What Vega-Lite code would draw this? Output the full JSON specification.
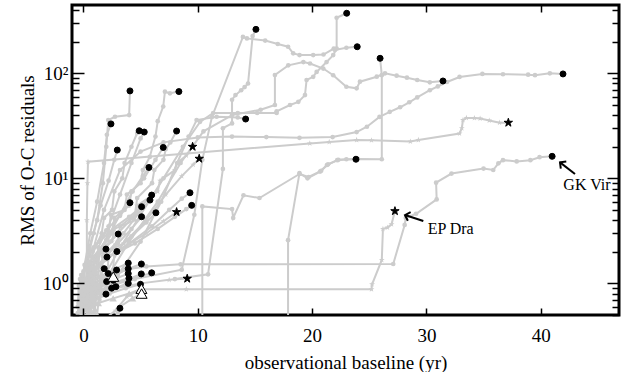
{
"$schema": "https://vega.github.io/schema/vega-lite/v6.json",
"width": 547, "height": 310,
"autosize": "none",
"padding": {"left": 72, "top": 5, "right": 2, "bottom": 57},
"background": "white",
"config": {"view": {"stroke": "black", "strokeWidth": 3}},
"datasets": {
"tracks": [
{"t":"t1","k":"a","o":0,"x":0.6,"y":0.62},{"t":"t1","k":"a","o":1,"x":1.2,"y":0.9},{"t":"t1","k":"a","o":2,"x":2.2,"y":1.15},{"t":"t1","k":"a","o":3,"x":3.5,"y":1.35},{"t":"t1","k":"a","o":4,"x":5.5,"y":1.45},{"t":"t1","k":"a","o":5,"x":8.5,"y":1.52},{"t":"t1","k":"a","o":6,"x":27.1,"y":1.53},{"t":"t1","k":"a","o":7,"x":28.1,"y":3.6},{"t":"t1","k":"a","o":8,"x":28.2,"y":4.2},{"t":"t1","k":"a","o":9,"x":29.1,"y":4.6},{"t":"t1","k":"a","o":10,"x":30.9,"y":6.3},{"t":"t1","k":"a","o":11,"x":30.85,"y":9.1},{"t":"t1","k":"a","o":12,"x":32.2,"y":11.1},{"t":"t1","k":"a","o":13,"x":35.0,"y":12.4},{"t":"t1","k":"a","o":14,"x":35.85,"y":12.0},{"t":"t1","k":"a","o":15,"x":36.3,"y":13.9},{"t":"t1","k":"a","o":16,"x":36.7,"y":14.9},{"t":"t1","k":"a","o":17,"x":37.9,"y":14.5},{"t":"t1","k":"a","o":18,"x":39.1,"y":14.9},{"t":"t1","k":"a","o":19,"x":39.9,"y":15.9},{"t":"t1","k":"a","o":20,"x":41.0,"y":16.2},
{"t":"t2","k":"b","o":0,"x":2.8,"y":0.55},{"t":"t2","k":"b","o":1,"x":3.8,"y":0.75},{"t":"t2","k":"b","o":2,"x":5.0,"y":0.88},{"t":"t2","k":"b","o":3,"x":9.0,"y":0.88},{"t":"t2","k":"b","o":4,"x":25.2,"y":0.88},{"t":"t2","k":"b","o":5,"x":25.25,"y":0.98},{"t":"t2","k":"b","o":6,"x":26.1,"y":1.67},{"t":"t2","k":"b","o":7,"x":26.2,"y":3.3},{"t":"t2","k":"b","o":8,"x":26.6,"y":3.4},{"t":"t2","k":"b","o":9,"x":26.95,"y":3.65},{"t":"t2","k":"b","o":10,"x":27.25,"y":4.88},
{"t":"t3","k":"a","o":0,"x":0.8,"y":2.0},{"t":"t3","k":"a","o":1,"x":1.8,"y":5},{"t":"t3","k":"a","o":2,"x":3.2,"y":12},{"t":"t3","k":"a","o":3,"x":5,"y":18},{"t":"t3","k":"a","o":4,"x":7,"y":22},{"t":"t3","k":"a","o":5,"x":10,"y":24.5},{"t":"t3","k":"a","o":6,"x":13,"y":25},{"t":"t3","k":"a","o":7,"x":16,"y":24.7},{"t":"t3","k":"a","o":8,"x":18.9,"y":24.3},{"t":"t3","k":"a","o":9,"x":21.8,"y":24.7},{"t":"t3","k":"a","o":10,"x":23.9,"y":27.6},{"t":"t3","k":"a","o":11,"x":24.8,"y":31},{"t":"t3","k":"a","o":12,"x":25.9,"y":38.4},{"t":"t3","k":"a","o":13,"x":26.8,"y":43},{"t":"t3","k":"a","o":14,"x":27.7,"y":47.5},{"t":"t3","k":"a","o":15,"x":28.5,"y":53},{"t":"t3","k":"a","o":16,"x":29.2,"y":59},{"t":"t3","k":"a","o":17,"x":30.3,"y":69},{"t":"t3","k":"a","o":18,"x":31.0,"y":75},{"t":"t3","k":"a","o":19,"x":31.8,"y":82.6},{"t":"t3","k":"a","o":20,"x":32.9,"y":92.3},{"t":"t3","k":"a","o":21,"x":34.9,"y":98.6},{"t":"t3","k":"a","o":22,"x":36.7,"y":98},{"t":"t3","k":"a","o":23,"x":38.9,"y":97},{"t":"t3","k":"a","o":24,"x":39.5,"y":96},{"t":"t3","k":"a","o":25,"x":40.8,"y":100},{"t":"t3","k":"a","o":26,"x":41.95,"y":98.6},
{"t":"t4","k":"b","o":0,"x":0.3,"y":0.5},{"t":"t4","k":"b","o":1,"x":0.3,"y":1.5},{"t":"t4","k":"b","o":2,"x":0.3,"y":4},{"t":"t4","k":"b","o":3,"x":0.35,"y":9},{"t":"t4","k":"b","o":4,"x":0.4,"y":14.4},{"t":"t4","k":"b","o":5,"x":19.8,"y":21.5},{"t":"t4","k":"b","o":6,"x":21.5,"y":22.2},{"t":"t4","k":"b","o":7,"x":23.9,"y":23.2},{"t":"t4","k":"b","o":8,"x":25.2,"y":23.0},{"t":"t4","k":"b","o":9,"x":28.6,"y":22.4},{"t":"t4","k":"b","o":10,"x":29.3,"y":23.2},{"t":"t4","k":"b","o":11,"x":32.9,"y":26.7},{"t":"t4","k":"b","o":12,"x":33.1,"y":30},{"t":"t4","k":"b","o":13,"x":33.2,"y":35.9},{"t":"t4","k":"b","o":14,"x":33.5,"y":37.6},{"t":"t4","k":"b","o":15,"x":34.2,"y":37.5},{"t":"t4","k":"b","o":16,"x":34.7,"y":37.1},{"t":"t4","k":"b","o":17,"x":35.5,"y":35.5},{"t":"t4","k":"b","o":18,"x":36.4,"y":33.9},{"t":"t4","k":"b","o":19,"x":37.17,"y":33.9},
{"t":"t5","k":"a","o":0,"x":17.9,"y":0.45},{"t":"t5","k":"a","o":1,"x":17.9,"y":2.58},{"t":"t5","k":"a","o":2,"x":18.9,"y":11.2},{"t":"t5","k":"a","o":3,"x":19.6,"y":10.0},{"t":"t5","k":"a","o":4,"x":20.7,"y":11.6},{"t":"t5","k":"a","o":5,"x":21.3,"y":13.4},{"t":"t5","k":"a","o":6,"x":22.2,"y":14.9},{"t":"t5","k":"a","o":7,"x":23.0,"y":15.2},{"t":"t5","k":"a","o":8,"x":23.84,"y":15.2},
{"t":"t6","k":"a","o":0,"x":10.4,"y":0.45},{"t":"t6","k":"a","o":1,"x":10.4,"y":5.4},{"t":"t6","k":"a","o":2,"x":13.0,"y":5.1},{"t":"t6","k":"a","o":3,"x":13.1,"y":4.2},{"t":"t6","k":"a","o":4,"x":14.0,"y":6.9},{"t":"t6","k":"a","o":5,"x":15.4,"y":6.5},{"t":"t6","k":"a","o":6,"x":18.9,"y":11.0},{"t":"t6","k":"a","o":7,"x":19.7,"y":10.3},{"t":"t6","k":"a","o":8,"x":20.8,"y":11.8},{"t":"t6","k":"a","o":9,"x":21.4,"y":13.6},{"t":"t6","k":"a","o":10,"x":22.3,"y":15.0},{"t":"t6","k":"a","o":11,"x":24.0,"y":15.3},{"t":"t6","k":"a","o":12,"x":26.1,"y":15.2},{"t":"t6","k":"a","o":13,"x":26.1,"y":96},{"t":"t6","k":"a","o":14,"x":25.95,"y":139},
{"t":"t7","k":"a","o":0,"x":8.0,"y":1.1},{"t":"t7","k":"a","o":1,"x":10.9,"y":1.22},{"t":"t7","k":"a","o":2,"x":12.2,"y":12.3},{"t":"t7","k":"a","o":3,"x":12.2,"y":30},{"t":"t7","k":"a","o":4,"x":13.0,"y":33.3},{"t":"t7","k":"a","o":5,"x":13.0,"y":56},{"t":"t7","k":"a","o":6,"x":13.3,"y":62},{"t":"t7","k":"a","o":7,"x":13.8,"y":69},{"t":"t7","k":"a","o":8,"x":14.1,"y":74},{"t":"t7","k":"a","o":9,"x":14.4,"y":80},{"t":"t7","k":"a","o":10,"x":14.8,"y":226},{"t":"t7","k":"a","o":11,"x":15.09,"y":262},
{"t":"t8","k":"a","o":0,"x":4.5,"y":1.1},{"t":"t8","k":"a","o":1,"x":8.6,"y":1.35},{"t":"t8","k":"a","o":2,"x":9.7,"y":4.5},{"t":"t8","k":"a","o":3,"x":10.4,"y":15},{"t":"t8","k":"a","o":4,"x":11.24,"y":38.4},{"t":"t8","k":"a","o":5,"x":13.95,"y":222},{"t":"t8","k":"a","o":6,"x":14.3,"y":215},{"t":"t8","k":"a","o":7,"x":15.9,"y":205},{"t":"t8","k":"a","o":8,"x":17.0,"y":190},{"t":"t8","k":"a","o":9,"x":17.9,"y":179},{"t":"t8","k":"a","o":10,"x":18.35,"y":155},{"t":"t8","k":"a","o":11,"x":18.9,"y":149},{"t":"t8","k":"a","o":12,"x":20.1,"y":149},{"t":"t8","k":"a","o":13,"x":21.0,"y":151},{"t":"t8","k":"a","o":14,"x":21.9,"y":172},{"t":"t8","k":"a","o":15,"x":22.0,"y":167},{"t":"t8","k":"a","o":16,"x":23.0,"y":175},{"t":"t8","k":"a","o":17,"x":23.95,"y":179},
{"t":"t9","k":"a","o":0,"x":1.5,"y":1.0},{"t":"t9","k":"a","o":1,"x":3,"y":2},{"t":"t9","k":"a","o":2,"x":5,"y":4.5},{"t":"t9","k":"a","o":3,"x":7,"y":10},{"t":"t9","k":"a","o":4,"x":8.7,"y":20},{"t":"t9","k":"a","o":5,"x":10.2,"y":34.5},{"t":"t9","k":"a","o":6,"x":11.35,"y":41.9},{"t":"t9","k":"a","o":7,"x":13.5,"y":41.9},{"t":"t9","k":"a","o":8,"x":15.2,"y":41.9},{"t":"t9","k":"a","o":9,"x":16.9,"y":41.9},{"t":"t9","k":"a","o":10,"x":16.9,"y":43.5},{"t":"t9","k":"a","o":11,"x":18.07,"y":49.9},{"t":"t9","k":"a","o":12,"x":18.8,"y":53.5},{"t":"t9","k":"a","o":13,"x":19.38,"y":62},{"t":"t9","k":"a","o":14,"x":19.52,"y":86.4},{"t":"t9","k":"a","o":15,"x":20.1,"y":92.6},{"t":"t9","k":"a","o":16,"x":20.4,"y":103},{"t":"t9","k":"a","o":17,"x":21.27,"y":128},{"t":"t9","k":"a","o":18,"x":21.85,"y":149},{"t":"t9","k":"a","o":19,"x":22.15,"y":172},{"t":"t9","k":"a","o":20,"x":22.15,"y":338},{"t":"t9","k":"a","o":21,"x":23.03,"y":373},
{"t":"t10","k":"a","o":0,"x":2.0,"y":1.1},{"t":"t10","k":"a","o":1,"x":4,"y":2.5},{"t":"t10","k":"a","o":2,"x":6.5,"y":6},{"t":"t10","k":"a","o":3,"x":8.5,"y":14},{"t":"t10","k":"a","o":4,"x":10.5,"y":28},{"t":"t10","k":"a","o":5,"x":13,"y":40},{"t":"t10","k":"a","o":6,"x":15.5,"y":45},{"t":"t10","k":"a","o":7,"x":16.75,"y":49.9},{"t":"t10","k":"a","o":8,"x":16.75,"y":96.4},{"t":"t10","k":"a","o":9,"x":17.92,"y":119},{"t":"t10","k":"a","o":10,"x":19.24,"y":128},{"t":"t10","k":"a","o":11,"x":19.82,"y":124},{"t":"t10","k":"a","o":12,"x":20.98,"y":111},{"t":"t10","k":"a","o":13,"x":21.85,"y":95.8},{"t":"t10","k":"a","o":14,"x":23.0,"y":74.5},{"t":"t10","k":"a","o":15,"x":23.9,"y":71.9},{"t":"t10","k":"a","o":16,"x":24.19,"y":83.2},{"t":"t10","k":"a","o":17,"x":25.66,"y":92.8},{"t":"t10","k":"a","o":18,"x":26.38,"y":100},{"t":"t10","k":"a","o":19,"x":27.4,"y":94.9},{"t":"t10","k":"a","o":20,"x":28.3,"y":90.8},{"t":"t10","k":"a","o":21,"x":29.2,"y":86.4},{"t":"t10","k":"a","o":22,"x":30.3,"y":82.1},{"t":"t10","k":"a","o":23,"x":31.45,"y":84.5},
{"t":"t11","k":"a","o":0,"x":3,"y":1.2},{"t":"t11","k":"a","o":1,"x":5,"y":2.5},{"t":"t11","k":"a","o":2,"x":6.8,"y":6},{"t":"t11","k":"a","o":3,"x":8.2,"y":14},{"t":"t11","k":"a","o":4,"x":9.2,"y":25},{"t":"t11","k":"a","o":5,"x":9.9,"y":35.9},{"t":"t11","k":"a","o":6,"x":11.65,"y":38.6},{"t":"t11","k":"a","o":7,"x":13.5,"y":38},{"t":"t11","k":"a","o":8,"x":14.19,"y":36.7},
{"t":"d1","k":"a","o":0,"x":0.0,"y":0.5},{"t":"d1","k":"a","o":1,"x":0.2,"y":1.0},{"t":"d1","k":"a","o":2,"x":0.5,"y":2.2},{"t":"d1","k":"a","o":3,"x":1.2,"y":4},{"t":"d1","k":"a","o":4,"x":1.7,"y":9},{"t":"d1","k":"a","o":5,"x":2.0,"y":20},{"t":"d1","k":"a","o":6,"x":2.17,"y":35.9},{"t":"d1","k":"a","o":7,"x":2.76,"y":38.6},{"t":"d1","k":"a","o":8,"x":4.0,"y":40},{"t":"d1","k":"a","o":9,"x":4.07,"y":68},
{"t":"d2","k":"a","o":0,"x":0.8,"y":0.7},{"t":"d2","k":"a","o":1,"x":1.0,"y":1.6},{"t":"d2","k":"a","o":2,"x":2.2,"y":3},{"t":"d2","k":"a","o":3,"x":2.4,"y":4.5},{"t":"d2","k":"a","o":4,"x":3.6,"y":5},{"t":"d2","k":"a","o":5,"x":3.8,"y":7},{"t":"d2","k":"a","o":6,"x":5,"y":9},{"t":"d2","k":"a","o":7,"x":5.2,"y":12},{"t":"d2","k":"a","o":8,"x":5.8,"y":16},{"t":"d2","k":"a","o":9,"x":6.3,"y":25},{"t":"d2","k":"a","o":10,"x":6.5,"y":35},{"t":"d2","k":"a","o":11,"x":6.98,"y":48.3},{"t":"d2","k":"a","o":12,"x":7.13,"y":66.8},{"t":"d2","k":"a","o":13,"x":7.57,"y":64.5},{"t":"d2","k":"a","o":14,"x":8.35,"y":67},
{"t":"d3","k":"a","o":0,"x":-0.2,"y":0.6},{"t":"d3","k":"a","o":1,"x":0.0,"y":1.3},{"t":"d3","k":"a","o":2,"x":0.6,"y":3},{"t":"d3","k":"a","o":3,"x":1.2,"y":6},{"t":"d3","k":"a","o":4,"x":1.8,"y":14},{"t":"d3","k":"a","o":5,"x":2.05,"y":26},{"t":"d3","k":"a","o":6,"x":2.41,"y":33},
{"t":"d4","k":"a","o":0,"x":0.5,"y":0.8},{"t":"d4","k":"a","o":1,"x":0.7,"y":1.8},{"t":"d4","k":"a","o":2,"x":1.6,"y":3},{"t":"d4","k":"a","o":3,"x":1.8,"y":4.2},{"t":"d4","k":"a","o":4,"x":2.5,"y":5},{"t":"d4","k":"a","o":5,"x":2.7,"y":7.5},{"t":"d4","k":"a","o":6,"x":3.4,"y":10},{"t":"d4","k":"a","o":7,"x":3.6,"y":14},{"t":"d4","k":"a","o":8,"x":4.2,"y":20},{"t":"d4","k":"a","o":9,"x":4.7,"y":27},{"t":"d4","k":"a","o":10,"x":4.88,"y":28.4},
{"t":"d5","k":"a","o":0,"x":1.0,"y":0.9},{"t":"d5","k":"a","o":1,"x":1.3,"y":2.2},{"t":"d5","k":"a","o":2,"x":2.2,"y":3.5},{"t":"d5","k":"a","o":3,"x":3.2,"y":7},{"t":"d5","k":"a","o":4,"x":4.2,"y":14},{"t":"d5","k":"a","o":5,"x":5.0,"y":24},{"t":"d5","k":"a","o":6,"x":5.32,"y":27.6},
{"t":"d6","k":"a","o":0,"x":1.5,"y":0.8},{"t":"d6","k":"a","o":1,"x":1.7,"y":1.8},{"t":"d6","k":"a","o":2,"x":3,"y":2.5},{"t":"d6","k":"a","o":3,"x":3.2,"y":3.5},{"t":"d6","k":"a","o":4,"x":4.5,"y":4.5},{"t":"d6","k":"a","o":5,"x":4.7,"y":6.5},{"t":"d6","k":"a","o":6,"x":6,"y":9},{"t":"d6","k":"a","o":7,"x":6.2,"y":12},{"t":"d6","k":"a","o":8,"x":7,"y":15},{"t":"d6","k":"a","o":9,"x":7.2,"y":19},{"t":"d6","k":"a","o":10,"x":7.6,"y":22},{"t":"d6","k":"a","o":11,"x":8.15,"y":28.2},
{"t":"d7","k":"a","o":0,"x":0.2,"y":0.7},{"t":"d7","k":"a","o":1,"x":0.3,"y":1.6},{"t":"d7","k":"a","o":2,"x":0.9,"y":3},{"t":"d7","k":"a","o":3,"x":1.5,"y":5.5},{"t":"d7","k":"a","o":4,"x":2.2,"y":9.5},{"t":"d7","k":"a","o":5,"x":2.7,"y":15},{"t":"d7","k":"a","o":6,"x":2.96,"y":18.6},
{"t":"d8","k":"a","o":0,"x":1.2,"y":0.9},{"t":"d8","k":"a","o":1,"x":1.4,"y":2},{"t":"d8","k":"a","o":2,"x":2.5,"y":3},{"t":"d8","k":"a","o":3,"x":2.7,"y":4.2},{"t":"d8","k":"a","o":4,"x":4,"y":5.5},{"t":"d8","k":"a","o":5,"x":4.2,"y":7.5},{"t":"d8","k":"a","o":6,"x":5.3,"y":10},{"t":"d8","k":"a","o":7,"x":6.3,"y":15},{"t":"d8","k":"a","o":8,"x":6.98,"y":19.7},
{"t":"d9","k":"a","o":0,"x":0.7,"y":0.75},{"t":"d9","k":"a","o":1,"x":0.9,"y":1.8},{"t":"d9","k":"a","o":2,"x":2,"y":2.6},{"t":"d9","k":"a","o":3,"x":3.2,"y":4.5},{"t":"d9","k":"a","o":4,"x":4.3,"y":7.5},{"t":"d9","k":"a","o":5,"x":5.2,"y":10.5},{"t":"d9","k":"a","o":6,"x":5.73,"y":12.7},
{"t":"d10","k":"a","o":0,"x":0.5,"y":0.6},{"t":"d10","k":"a","o":1,"x":0.6,"y":1.4},{"t":"d10","k":"a","o":2,"x":1.6,"y":2},{"t":"d10","k":"a","o":3,"x":3,"y":3},{"t":"d10","k":"a","o":4,"x":4.3,"y":4.2},{"t":"d10","k":"a","o":5,"x":5.2,"y":5.6},{"t":"d10","k":"a","o":6,"x":5.97,"y":6.93},
{"t":"d11","k":"a","o":0,"x":0.0,"y":0.7},{"t":"d11","k":"a","o":1,"x":0.1,"y":1.5},{"t":"d11","k":"a","o":2,"x":0.9,"y":2.2},{"t":"d11","k":"a","o":3,"x":2,"y":3.2},{"t":"d11","k":"a","o":4,"x":3.2,"y":4.4},{"t":"d11","k":"a","o":5,"x":4.07,"y":5.86},
{"t":"d12","k":"a","o":0,"x":0.3,"y":0.9},{"t":"d12","k":"a","o":1,"x":0.5,"y":2},{"t":"d12","k":"a","o":2,"x":1.4,"y":2.5},{"t":"d12","k":"a","o":3,"x":2.7,"y":3.4},{"t":"d12","k":"a","o":4,"x":4,"y":4.3},{"t":"d12","k":"a","o":5,"x":5.09,"y":5.37},
{"t":"d13","k":"a","o":0,"x":1.0,"y":0.65},{"t":"d13","k":"a","o":1,"x":1.1,"y":1.4},{"t":"d13","k":"a","o":2,"x":2.2,"y":2},{"t":"d13","k":"a","o":3,"x":3.5,"y":3},{"t":"d13","k":"a","o":4,"x":4.8,"y":4.6},{"t":"d13","k":"a","o":5,"x":5.82,"y":6.21},
{"t":"d14","k":"a","o":0,"x":1.4,"y":0.7},{"t":"d14","k":"a","o":1,"x":1.5,"y":1.5},{"t":"d14","k":"a","o":2,"x":2.8,"y":2},{"t":"d14","k":"a","o":3,"x":4.2,"y":2.8},{"t":"d14","k":"a","o":4,"x":5.5,"y":3.8},{"t":"d14","k":"a","o":5,"x":6.34,"y":4.7},
{"t":"d15","k":"a","o":0,"x":0.6,"y":0.55},{"t":"d15","k":"a","o":1,"x":0.7,"y":1.2},{"t":"d15","k":"a","o":2,"x":1.8,"y":1.7},{"t":"d15","k":"a","o":3,"x":3,"y":2.4},{"t":"d15","k":"a","o":4,"x":4.2,"y":3.3},{"t":"d15","k":"a","o":5,"x":5.09,"y":4.31},
{"t":"d16","k":"a","o":0,"x":2,"y":0.9},{"t":"d16","k":"a","o":1,"x":2.2,"y":1.8},{"t":"d16","k":"a","o":2,"x":4,"y":2.4},{"t":"d16","k":"a","o":3,"x":6,"y":3.5},{"t":"d16","k":"a","o":4,"x":7.5,"y":5},{"t":"d16","k":"a","o":5,"x":8.6,"y":6.4},{"t":"d16","k":"a","o":6,"x":9.32,"y":7.29},
{"t":"d17","k":"a","o":0,"x":2.5,"y":1.0},{"t":"d17","k":"a","o":1,"x":2.7,"y":1.9},{"t":"d17","k":"a","o":2,"x":4.5,"y":2.4},{"t":"d17","k":"a","o":3,"x":6.5,"y":3.3},{"t":"d17","k":"a","o":4,"x":8,"y":4.3},{"t":"d17","k":"a","o":5,"x":9.0,"y":5.1},{"t":"d17","k":"a","o":6,"x":9.47,"y":5.53},
{"t":"d18","k":"a","o":0,"x":-0.3,"y":0.55},{"t":"d18","k":"a","o":1,"x":-0.2,"y":1.2},{"t":"d18","k":"a","o":2,"x":0.5,"y":1.6},{"t":"d18","k":"a","o":3,"x":1.4,"y":2.0},{"t":"d18","k":"a","o":4,"x":2.3,"y":2.5},{"t":"d18","k":"a","o":5,"x":3.04,"y":2.95},
{"t":"d19","k":"a","o":0,"x":-0.4,"y":0.6},{"t":"d19","k":"a","o":1,"x":-0.3,"y":1.1},{"t":"d19","k":"a","o":2,"x":0.3,"y":1.4},{"t":"d19","k":"a","o":3,"x":1.0,"y":1.7},{"t":"d19","k":"a","o":4,"x":1.97,"y":2.12},
{"t":"d20","k":"a","o":0,"x":0.1,"y":0.6},{"t":"d20","k":"a","o":1,"x":0.2,"y":1.1},{"t":"d20","k":"a","o":2,"x":1.0,"y":1.4},{"t":"d20","k":"a","o":3,"x":2.0,"y":1.7},{"t":"d20","k":"a","o":4,"x":2.93,"y":2.01},
{"t":"d21","k":"a","o":0,"x":-0.2,"y":0.5},{"t":"d21","k":"a","o":1,"x":-0.1,"y":1.0},{"t":"d21","k":"a","o":2,"x":0.5,"y":1.2},{"t":"d21","k":"a","o":3,"x":1.3,"y":1.45},{"t":"d21","k":"a","o":4,"x":2.06,"y":1.78},
{"t":"d22","k":"a","o":0,"x":0.2,"y":0.6},{"t":"d22","k":"a","o":1,"x":0.3,"y":1.0},{"t":"d22","k":"a","o":2,"x":1.4,"y":1.15},{"t":"d22","k":"a","o":3,"x":2.6,"y":1.35},{"t":"d22","k":"a","o":4,"x":3.92,"y":1.56},
{"t":"d23","k":"a","o":0,"x":-0.5,"y":0.6},{"t":"d23","k":"a","o":1,"x":-0.4,"y":0.95},{"t":"d23","k":"a","o":2,"x":0.2,"y":1.1},{"t":"d23","k":"a","o":3,"x":1.0,"y":1.25},{"t":"d23","k":"a","o":4,"x":1.82,"y":1.38},
{"t":"d24","k":"a","o":0,"x":0.0,"y":0.55},{"t":"d24","k":"a","o":1,"x":0.1,"y":0.9},{"t":"d24","k":"a","o":2,"x":1.0,"y":1.0},{"t":"d24","k":"a","o":3,"x":2.0,"y":1.2},{"t":"d24","k":"a","o":4,"x":2.9,"y":1.34},
{"t":"d25","k":"a","o":0,"x":0.4,"y":0.5},{"t":"d25","k":"a","o":1,"x":0.5,"y":0.85},{"t":"d25","k":"a","o":2,"x":1.6,"y":1.0},{"t":"d25","k":"a","o":3,"x":2.8,"y":1.2},{"t":"d25","k":"a","o":4,"x":3.92,"y":1.38},
{"t":"d26","k":"a","o":0,"x":0.8,"y":0.6},{"t":"d26","k":"a","o":1,"x":0.9,"y":1.0},{"t":"d26","k":"a","o":2,"x":2.2,"y":1.15},{"t":"d26","k":"a","o":3,"x":3.7,"y":1.35},{"t":"d26","k":"a","o":4,"x":5.07,"y":1.53},
{"t":"d27","k":"a","o":0,"x":-0.3,"y":0.7},{"t":"d27","k":"a","o":1,"x":-0.2,"y":1.0},{"t":"d27","k":"a","o":2,"x":0.6,"y":1.05},{"t":"d27","k":"a","o":3,"x":1.4,"y":1.15},{"t":"d27","k":"a","o":4,"x":2.17,"y":1.24},
{"t":"d28","k":"a","o":0,"x":0.5,"y":0.65},{"t":"d28","k":"a","o":1,"x":0.6,"y":0.9},{"t":"d28","k":"a","o":2,"x":1.7,"y":1.0},{"t":"d28","k":"a","o":3,"x":2.9,"y":1.12},{"t":"d28","k":"a","o":4,"x":3.92,"y":1.24},
{"t":"d29","k":"a","o":0,"x":1.0,"y":0.55},{"t":"d29","k":"a","o":1,"x":1.1,"y":0.85},{"t":"d29","k":"a","o":2,"x":2.5,"y":0.95},{"t":"d29","k":"a","o":3,"x":4.2,"y":1.1},{"t":"d29","k":"a","o":4,"x":5.97,"y":1.26},
{"t":"d30","k":"a","o":0,"x":0.6,"y":0.5},{"t":"d30","k":"a","o":1,"x":0.7,"y":0.8},{"t":"d30","k":"a","o":2,"x":2,"y":0.9},{"t":"d30","k":"a","o":3,"x":3.5,"y":1.05},{"t":"d30","k":"a","o":4,"x":5.06,"y":1.23},
{"t":"d31","k":"a","o":0,"x":0.1,"y":0.6},{"t":"d31","k":"a","o":1,"x":0.2,"y":0.85},{"t":"d31","k":"a","o":2,"x":1.3,"y":0.92},{"t":"d31","k":"a","o":3,"x":2.7,"y":1.02},{"t":"d31","k":"a","o":4,"x":3.98,"y":1.12},
{"t":"d32","k":"a","o":0,"x":-0.1,"y":0.55},{"t":"d32","k":"a","o":1,"x":0.0,"y":0.8},{"t":"d32","k":"a","o":2,"x":0.8,"y":0.88},{"t":"d32","k":"a","o":3,"x":1.7,"y":0.98},{"t":"d32","k":"a","o":4,"x":2.61,"y":1.07},
{"t":"d33","k":"a","o":0,"x":-0.4,"y":0.65},{"t":"d33","k":"a","o":1,"x":-0.3,"y":0.85},{"t":"d33","k":"a","o":2,"x":0.4,"y":0.9},{"t":"d33","k":"a","o":3,"x":1.2,"y":0.97},{"t":"d33","k":"a","o":4,"x":2.03,"y":1.04},
{"t":"d34","k":"a","o":0,"x":-0.2,"y":0.5},{"t":"d34","k":"a","o":1,"x":-0.1,"y":0.7},{"t":"d34","k":"a","o":2,"x":0.7,"y":0.75},{"t":"d34","k":"a","o":3,"x":1.6,"y":0.82},{"t":"d34","k":"a","o":4,"x":2.47,"y":0.9},
{"t":"d35","k":"a","o":0,"x":0.3,"y":0.55},{"t":"d35","k":"a","o":1,"x":0.4,"y":0.75},{"t":"d35","k":"a","o":2,"x":1.2,"y":0.8},{"t":"d35","k":"a","o":3,"x":2.0,"y":0.87},{"t":"d35","k":"a","o":4,"x":2.84,"y":0.93},
{"t":"d36","k":"a","o":0,"x":-0.5,"y":0.52},{"t":"d36","k":"a","o":1,"x":-0.4,"y":0.65},{"t":"d36","k":"a","o":2,"x":0.3,"y":0.68},{"t":"d36","k":"a","o":3,"x":1.1,"y":0.73},{"t":"d36","k":"a","o":4,"x":1.97,"y":0.79},
{"t":"d37","k":"a","o":0,"x":0.9,"y":0.52},{"t":"d37","k":"a","o":1,"x":1.0,"y":0.7},{"t":"d37","k":"a","o":2,"x":2.3,"y":0.8},{"t":"d37","k":"a","o":3,"x":3.7,"y":0.9},{"t":"d37","k":"a","o":4,"x":4.99,"y":0.98},
{"t":"d38","k":"a","o":0,"x":0.6,"y":0.55},{"t":"d38","k":"a","o":1,"x":0.7,"y":0.75},{"t":"d38","k":"a","o":2,"x":1.8,"y":0.82},{"t":"d38","k":"a","o":3,"x":2.9,"y":0.92},{"t":"d38","k":"a","o":4,"x":3.92,"y":1.0},
{"t":"d39","k":"a","o":0,"x":2.9,"y":0.45},{"t":"d39","k":"a","o":1,"x":3.0,"y":0.52},{"t":"d39","k":"a","o":2,"x":3.19,"y":0.58},
{"t":"s1","k":"b","o":0,"x":0.8,"y":0.8},{"t":"s1","k":"b","o":1,"x":1.0,"y":1.8},{"t":"s1","k":"b","o":2,"x":2.5,"y":2.5},{"t":"s1","k":"b","o":3,"x":2.7,"y":3.3},{"t":"s1","k":"b","o":4,"x":4.5,"y":4},{"t":"s1","k":"b","o":5,"x":4.7,"y":5.5},{"t":"s1","k":"b","o":6,"x":6.5,"y":7.5},{"t":"s1","k":"b","o":7,"x":6.7,"y":9.5},{"t":"s1","k":"b","o":8,"x":8,"y":12},{"t":"s1","k":"b","o":9,"x":8.2,"y":14},{"t":"s1","k":"b","o":10,"x":9.0,"y":16.5},{"t":"s1","k":"b","o":11,"x":9.55,"y":20},
{"t":"s2","k":"b","o":0,"x":1.5,"y":0.9},{"t":"s2","k":"b","o":1,"x":1.7,"y":1.9},{"t":"s2","k":"b","o":2,"x":3.5,"y":2.4},{"t":"s2","k":"b","o":3,"x":5.5,"y":4},{"t":"s2","k":"b","o":4,"x":7.2,"y":7},{"t":"s2","k":"b","o":5,"x":8.6,"y":10.5},{"t":"s2","k":"b","o":6,"x":9.6,"y":13.5},{"t":"s2","k":"b","o":7,"x":10.13,"y":15.4},
{"t":"s3","k":"b","o":0,"x":0.4,"y":0.6},{"t":"s3","k":"b","o":1,"x":0.5,"y":1.3},{"t":"s3","k":"b","o":2,"x":2,"y":1.7},{"t":"s3","k":"b","o":3,"x":3.8,"y":2.3},{"t":"s3","k":"b","o":4,"x":5.5,"y":3.0},{"t":"s3","k":"b","o":5,"x":7,"y":3.9},{"t":"s3","k":"b","o":6,"x":8.15,"y":4.78},
{"t":"s4","k":"b","o":0,"x":0.9,"y":0.5},{"t":"s4","k":"b","o":1,"x":1.0,"y":0.8},{"t":"s4","k":"b","o":2,"x":2.8,"y":0.9},{"t":"s4","k":"b","o":3,"x":5,"y":1.0},{"t":"s4","k":"b","o":4,"x":7.5,"y":1.08},{"t":"s4","k":"b","o":5,"x":9.08,"y":1.11},
{"t":"r1","k":"c","o":0,"x":-0.2,"y":0.5},{"t":"r1","k":"c","o":1,"x":-0.1,"y":0.8},{"t":"r1","k":"c","o":2,"x":0.7,"y":0.9},{"t":"r1","k":"c","o":3,"x":1.7,"y":1.03},{"t":"r1","k":"c","o":4,"x":2.61,"y":1.16},
{"t":"r2","k":"c","o":0,"x":1.2,"y":0.5},{"t":"r2","k":"c","o":1,"x":1.3,"y":0.65},{"t":"r2","k":"c","o":2,"x":2.6,"y":0.72},{"t":"r2","k":"c","o":3,"x":4.0,"y":0.8},{"t":"r2","k":"c","o":4,"x":5.07,"y":0.89},
{"t":"r3","k":"c","o":0,"x":1.8,"y":0.45},{"t":"r3","k":"c","o":1,"x":3.2,"y":0.6},{"t":"r3","k":"c","o":2,"x":4.3,"y":0.72},{"t":"r3","k":"c","o":3,"x":5.09,"y":0.8}
],
"notes": [
{"name":"GK Vir","x":41.98,"y":8.63,"tx":43.0,"ty":11.0,"hx":41.69,"hy":14.2},
{"name":"EP Dra","x":30.11,"y":3.29,"tx":29.73,"ty":3.92,"hx":28.13,"hy":4.47}
]
},
"resolve": {"scale": {"size": "independent", "fill": "independent", "shape": "independent"}, "axis": {"x": "independent", "y": "independent"}},
"layer": [
{"data": {"name": "tracks"},
 "mark": {"type": "line", "color": "#cccccc", "strokeWidth": 2, "clip": true},
 "encoding": {
  "x": {"field": "x", "type": "quantitative", "scale": {"domain": [-1, 46.85], "nice": false, "zero": false},
   "axis": {"values": [0,10,20,30,40], "title": "observational baseline (yr)", "domain": false, "grid": false, "zindex": 2,
    "tickSize": -7, "tickWidth": 1.5, "tickColor": "black", "labelFont": "Liberation Serif", "labelFontSize": 19, "labelColor": "black", "labelPadding": 18, "labelFlush": false,
    "titleFont": "Liberation Serif", "titleFontSize": 19, "titleFontWeight": "normal", "titleColor": "black", "titlePadding": 8}},
  "y": {"field": "y", "type": "quantitative", "scale": {"type": "log", "domain": [0.5, 447], "nice": false},
   "axis": {"values": [0.5,0.6,0.7,0.8,0.9,1,2,3,4,5,6,7,8,9,10,20,30,40,50,60,70,80,90,100,200,300,400],
    "title": "RMS of O-C residuals", "domain": false, "grid": false, "zindex": 2,
    "tickSize": {"condition": {"test": "datum.value === 1 || datum.value === 10 || datum.value === 100", "value": -12}, "value": -7},
    "tickWidth": 1.5, "tickColor": "black",
    "labelExpr": "datum.value === 1 ? '10⁰' : datum.value === 10 ? '10¹' : datum.value === 100 ? '10²' : ''",
    "labelOverlap": false, "labelFont": "Liberation Serif", "labelFontSize": 19, "labelColor": "black", "labelPadding": 16,
    "titleFont": "Liberation Serif", "titleFontSize": 19, "titleFontWeight": "normal", "titleColor": "black", "titlePadding": 5}},
  "detail": {"field": "t"},
  "order": {"field": "o", "type": "quantitative"}
 }},
{"data": {"name": "tracks"},
 "mark": {"type": "point", "filled": true, "color": "#cccccc", "opacity": 1, "clip": true},
 "encoding": {
  "x": {"field": "x", "type": "quantitative", "axis": {"orient": "top", "values": [0,10,20,30,40], "labels": false, "title": null, "domain": false, "grid": false, "tickSize": -7, "tickWidth": 1.5, "tickColor": "black", "zindex": 2}},
  "y": {"field": "y", "type": "quantitative", "axis": {"orient": "right", "values": [0.5,0.6,0.7,0.8,0.9,1,2,3,4,5,6,7,8,9,10,20,30,40,50,60,70,80,90,100,200,300,400], "labels": false, "title": null, "domain": false, "grid": false, "zindex": 2,
    "tickSize": {"condition": {"test": "datum.value === 1 || datum.value === 10 || datum.value === 100", "value": -12}, "value": -7}, "tickWidth": 1.5, "tickColor": "black"}},
  "shape": {"field": "k", "type": "nominal", "scale": {"domain": ["a","b","c"], "range": ["circle","M0,-1L0.225,-0.309L0.951,-0.309L0.363,0.118L0.588,0.809L0,0.382L-0.588,0.809L-0.363,0.118L-0.951,-0.309L-0.225,-0.309Z","triangle-up"]}, "legend": null},
  "size": {"field": "k", "type": "nominal", "scale": {"domain": ["a","b","c"], "range": [22,55,32]}, "legend": null}
 }},
{"data": {"name": "tracks"},
 "transform": [{"joinaggregate": [{"op": "max", "field": "o", "as": "last"}], "groupby": ["t"]}, {"filter": "datum.o === datum.last"}],
 "mark": {"type": "point", "filled": true, "stroke": "black", "strokeWidth": 1, "opacity": 1},
 "encoding": {
  "x": {"field": "x", "type": "quantitative", "axis": null},
  "y": {"field": "y", "type": "quantitative", "axis": null},
  "shape": {"field": "k", "type": "nominal", "scale": {"domain": ["a","b","c"], "range": ["circle","M0,-1L0.225,-0.309L0.951,-0.309L0.363,0.118L0.588,0.809L0,0.382L-0.588,0.809L-0.363,0.118L-0.951,-0.309L-0.225,-0.309Z","triangle-up"]}, "legend": null},
  "size": {"field": "k", "type": "nominal", "scale": {"domain": ["a","b","c"], "range": [36,120,60]}, "legend": null},
  "fill": {"field": "k", "type": "nominal", "scale": {"domain": ["a","b","c"], "range": ["black","black","white"]}, "legend": null}
 }},
{"data": {"name": "notes"},
 "mark": {"type": "text", "align": "left", "baseline": "middle", "font": "Liberation Serif", "fontSize": 16, "color": "black"},
 "encoding": {
  "x": {"field": "x", "type": "quantitative", "axis": null},
  "y": {"field": "y", "type": "quantitative", "axis": null},
  "text": {"field": "name"}
 }},
{"data": {"name": "notes"},
 "mark": {"type": "rule", "color": "black", "strokeWidth": 2},
 "encoding": {
  "x": {"field": "tx", "type": "quantitative", "axis": null},
  "y": {"field": "ty", "type": "quantitative", "axis": null},
  "x2": {"field": "hx"},
  "y2": {"field": "hy"}
 }},
{"data": {"name": "notes"},
 "transform": [{"filter": "datum.name === 'GK Vir'"}],
 "mark": {"type": "point", "shape": "M-1,1L0,0L1,1", "filled": false, "color": "black", "strokeWidth": 2, "size": 80, "angle": 308, "opacity": 1},
 "encoding": {
  "x": {"field": "hx", "type": "quantitative", "axis": null},
  "y": {"field": "hy", "type": "quantitative", "axis": null}
 }},
{"data": {"name": "notes"},
 "transform": [{"filter": "datum.name === 'EP Dra'"}],
 "mark": {"type": "point", "shape": "M-1,1L0,0L1,1", "filled": false, "color": "black", "strokeWidth": 2, "size": 80, "angle": 288, "opacity": 1},
 "encoding": {
  "x": {"field": "hx", "type": "quantitative", "axis": null},
  "y": {"field": "hy", "type": "quantitative", "axis": null}
 }}
]
}
